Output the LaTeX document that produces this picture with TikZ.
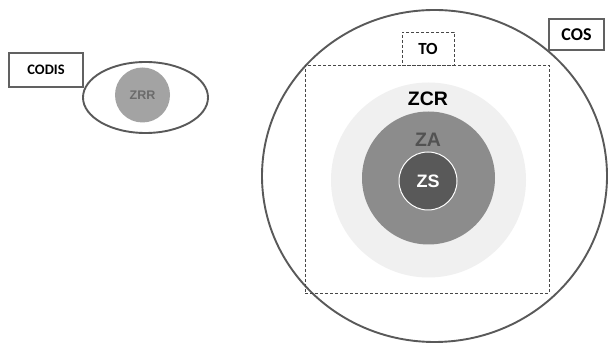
\documentclass[tikz,border=0pt]{standalone}
\usepackage{fontspec}
\usetikzlibrary{shapes.geometric}
\setmainfont{Liberation Sans}
\newfontfamily\calib{Carlito}
\begin{document}
\begin{tikzpicture}[x=1pt,y=-1pt,
  lbox/.style={draw=black!62,line width=2.4pt,fill=white,inner sep=0pt},
  ring/.style={draw=black!65,line width=1.9pt},
  dashbox/.style={draw=black!72,line width=0.9pt,dash pattern=on 3pt off 2pt}]
\useasboundingbox[fill=white] (0,0) rectangle (608,344);
% CODIS group
\node[ring,ellipse,minimum width=125,minimum height=71,draw,inner sep=0] (codisell) at (145.5,97.5) {};
\node[circle,fill=black!36,minimum size=55,inner sep=0] (zrr) at (142.5,95) {\fontsize{12.5}{14}\selectfont\bfseries\color{black!58}ZRR};
\node[lbox,minimum width=74,minimum height=34] (codis) at (46,70) {\calib\fontsize{14.5}{16}\selectfont\bfseries CODIS};
% COS group
\node[ring,ellipse,draw,minimum width=345,minimum height=332,inner sep=0] (cosell) at (434.5,176) {};
\node[dashbox,draw,minimum width=244,minimum height=228,inner sep=0] (tobox) at (427,179) {};
\node[dashbox,draw,fill=white,minimum width=52,minimum height=33,inner sep=0] (to) at (428,48.5) {\calib\fontsize{17}{18}\selectfont\bfseries TO};
\node[lbox,minimum width=55,minimum height=31] (cos) at (576.5,34.5) {\calib\fontsize{18}{20}\selectfont\bfseries COS};
\node[circle,fill=black!6,minimum size=195,inner sep=0] (zcr) at (428.5,180) {};
\node[circle,fill=black!45,minimum size=133,inner sep=0] (za) at (428.5,178) {};
\node[circle,fill=black!65,draw=white,line width=1pt,minimum size=58,inner sep=0] (zs) at (428,181) {\fontsize{18}{20}\selectfont\bfseries\color{white}ZS};
\node[font=\fontsize{19.5}{21}\selectfont\bfseries] (zcrl) at (428,99) {ZCR};
\node[font=\fontsize{19.5}{21}\selectfont\bfseries,text=black!68] (zal) at (428,140) {ZA};
\end{tikzpicture}
\end{document}
